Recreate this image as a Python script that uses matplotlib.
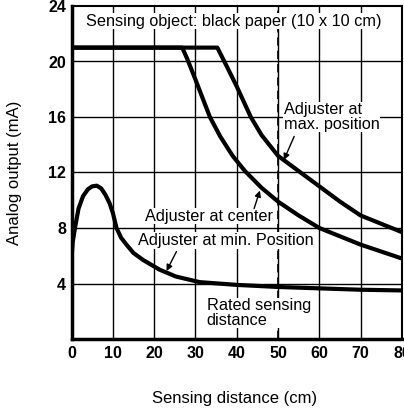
import matplotlib
matplotlib.use("Agg")
import matplotlib.pyplot as plt

plt.rcParams['font.family'] = ['Liberation Sans', 'DejaVu Sans']

# Data
x_ticks = [0, 10, 20, 30, 40, 50, 60, 70, 80]
y_ticks = [4, 8, 12, 16, 20, 24]

max_x = [0, 35.3, 37, 40, 43.4, 46, 50, 55, 60, 65, 70, 75, 80]
max_y = [21, 21, 20, 18.2, 16, 14.7, 13.2, 12.1, 11.0, 9.9, 8.9, 8.3, 7.7]

center_x = [0, 26.8, 28, 30, 33.5, 36, 39, 42, 46, 50, 55, 60, 65, 70, 75, 80]
center_y = [21, 21, 20.2, 18.7, 16, 14.6, 13.2, 12.1, 10.9, 9.9, 8.9, 8.0, 7.4, 6.8, 6.3, 5.8]

min_x = [0, 0.3, 0.9, 1.7, 2.8, 4.0, 5.0, 6.1, 7.2, 8.2, 9.2, 10, 10.9, 12, 13.3, 15, 17.3,
         21.3, 25.3, 31, 40, 50, 60, 70, 80]
min_y = [5.8, 7.0, 8.1, 9.4, 10.3, 10.8, 11.0, 11.05, 10.85, 10.4, 9.8, 9.1, 8.0, 7.3, 6.8,
         6.2, 5.7, 5.0, 4.5, 4.1, 3.9, 3.75, 3.65, 3.55, 3.5]

rated_distance = 50

fig = plt.figure(figsize=(4.04, 4.11), dpi=100)
ax = fig.add_axes([71.5/404, 1-339/411, (402-71.5)/404, (339-6)/411])
ax.set_xlim(0, 80)
ax.set_ylim(0, 24)

# grid
for xv in x_ticks[1:-1]:
    ax.axvline(xv, color='black', lw=1.0, zorder=1)
for yv in y_ticks[:-1]:
    ax.axhline(yv, color='black', lw=1.0, zorder=1)
ax.axvline(rated_distance, color='black', lw=1.2, ls=(0, (5, 3)), zorder=1)

for xs, ys in [(max_x, max_y), (center_x, center_y), (min_x, min_y)]:
    ax.plot(xs, ys, color='black', lw=3.0, solid_joinstyle='round',
            solid_capstyle='butt', zorder=3)

ax.set_xticks(x_ticks)
ax.set_yticks(y_ticks)
ax.tick_params(length=0, pad=4, labelsize=11.5)
for lab in ax.get_xticklabels() + ax.get_yticklabels():
    lab.set_fontweight('bold')
ax.tick_params(axis='x', pad=5)

ax.spines['left'].set_linewidth(2.5)
ax.spines['bottom'].set_linewidth(2.5)
ax.spines['top'].set_linewidth(1.5)
ax.spines['right'].set_linewidth(1.5)

bbox = dict(facecolor='white', edgecolor='none', pad=0.5)
fs = 11.7
ax.text(3.5, 22.9, 'Sensing object: black paper (10 x 10 cm)', fontsize=fs,
        va='center', ha='left', bbox=bbox, zorder=4)
ax.text(51.4, 16.0, 'Adjuster at\nmax. position', fontsize=fs, va='center',
        ha='left', linespacing=0.95, bbox=bbox, zorder=4)
ax.text(17.7, 8.85, 'Adjuster at center', fontsize=fs, va='center',
        ha='left', bbox=bbox, zorder=4)
ax.text(16.0, 7.1, 'Adjuster at min. Position', fontsize=fs, va='center',
        ha='left', bbox=bbox, zorder=4)
ax.text(32.7, 1.87, 'Rated sensing\ndistance', fontsize=fs, va='center',
        ha='left', linespacing=0.95, bbox=bbox, zorder=4)

arrow = dict(arrowstyle='-|>', color='black', lw=1.0, mutation_scale=9,
             shrinkA=0, shrinkB=0)
ax.annotate('', xy=(51.4, 12.9), xytext=(53.9, 14.6), arrowprops=arrow, zorder=5)
ax.annotate('', xy=(45.6, 10.7), xytext=(44.2, 9.4), arrowprops=arrow, zorder=5)
ax.annotate('', xy=(23.0, 4.9), xytext=(25.4, 6.3), arrowprops=arrow, zorder=5)

fig.text(15/404, 1-173/411, 'Analog output (mA)', rotation=90, fontsize=12,
         ha='center', va='center')
fig.text(235/404, 1-398/411, 'Sensing distance (cm)', fontsize=12,
         ha='center', va='center')

fig.savefig('out.png', dpi=100)
